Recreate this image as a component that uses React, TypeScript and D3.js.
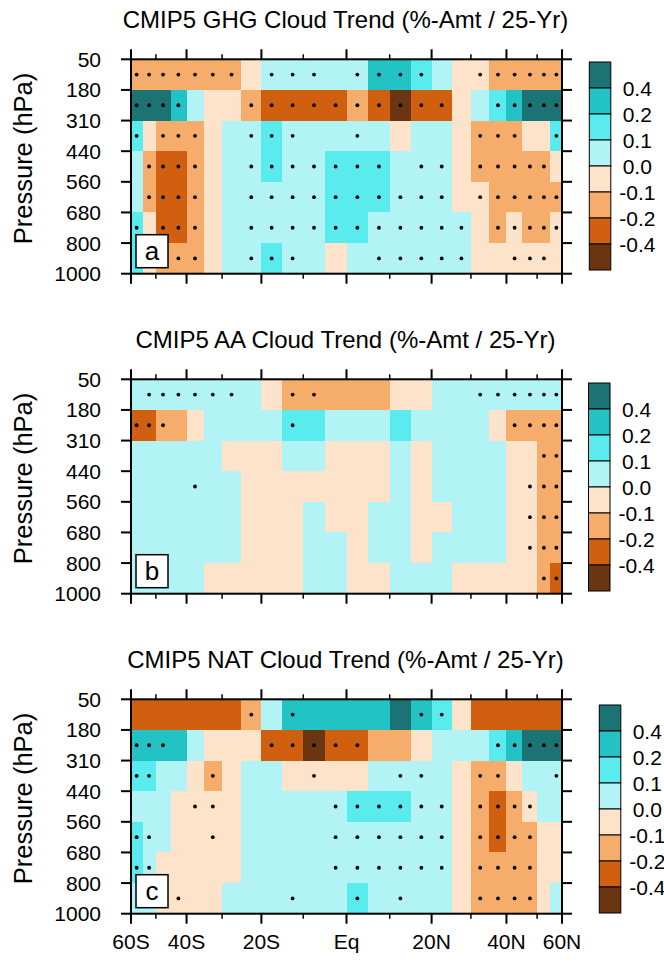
import React from "react";
import * as d3 from "d3";

// grid: 5 degree latitude bins, pressure layers between the levels
const latEdges = d3.range(-60, 61, 5);
const pressureLevels = [50, 180, 310, 440, 560, 680, 800, 1000];
const latTicks = [-60, -40, -20, 0, 20, 40, 60];
const latTickLabels = ["60S", "40S", "20S", "Eq", "20N", "40N", "60N"];
const latMinorTicks = [-50, -30, -10, 10, 30, 50];

// colour levels
const levelBounds = [-0.4, -0.2, -0.1, 0, 0.1, 0.2, 0.4];
const levelLabels = ["-0.4", "-0.2", "-0.1", "0.0", "0.1", "0.2", "0.4"];
const levelColors = ["#6c3512", "#d0600f", "#f6ac6b", "#fde3ca", "#b2f4f6", "#5aebee", "#22c2c5", "#1c7373"];

// GHG trend, rows top (50-180) to bottom (800-1000), columns 60S -> 60N
const ghgTrend = [
  [-0.15, -0.15, -0.15, -0.15, -0.15, -0.15, -0.15, -0.05, 0.05, 0.05, 0.05, 0.05, 0.05, 0.3, 0.3, 0.15, 0.05, -0.05, -0.05, -0.15, -0.15, -0.15, -0.15, -0.15],
  [0.5, 0.5, 0.5, 0.3, 0.05, -0.05, -0.05, -0.15, -0.3, -0.3, -0.3, -0.3, -0.15, -0.3, -0.5, -0.3, -0.3, -0.05, 0.05, 0.15, 0.3, 0.5, 0.5, 0.5],
  [0.15, -0.05, -0.15, -0.15, -0.15, -0.05, 0.05, 0.05, 0.15, 0.05, 0.05, 0.05, 0.05, 0.05, -0.05, 0.05, 0.05, -0.05, -0.15, -0.15, -0.15, -0.05, -0.05, 0.15],
  [0.05, -0.15, -0.3, -0.3, -0.15, -0.05, 0.05, 0.05, 0.15, 0.05, 0.05, 0.15, 0.15, 0.15, 0.05, 0.05, 0.05, -0.05, -0.15, -0.15, -0.15, -0.15, -0.15, -0.05],
  [0.05, -0.15, -0.3, -0.3, -0.15, -0.05, 0.05, 0.05, 0.05, 0.05, 0.05, 0.15, 0.15, 0.15, 0.05, 0.05, 0.05, -0.05, -0.05, -0.15, -0.15, -0.15, -0.15, -0.15],
  [0.15, -0.05, -0.3, -0.3, -0.15, -0.05, 0.05, 0.05, 0.05, 0.05, 0.05, 0.15, 0.15, 0.05, 0.05, 0.05, 0.05, 0.05, -0.05, -0.15, -0.05, -0.15, -0.15, -0.05],
  [0.15, -0.05, -0.15, -0.15, -0.15, -0.05, 0.05, 0.05, 0.15, 0.05, 0.05, -0.05, 0.05, 0.05, 0.05, 0.05, 0.05, 0.05, -0.05, -0.05, -0.05, -0.05, -0.05, -0.05],
];
const ghgSig = [
  "xxxxxxx-xxx-xxxx--xxxxxx",
  "xxxx---xxxxxxxxxx--xxxxx",
  "x-xxx--xxx--x-----xxx--x",
  "-xxxx--xxxxxxx-xx-xxxxx-",
  "-xxxx--xxxxxxxxxx-xxxxxx",
  "x-xxx--xxxxxxxxxxx-xxxxx",
  "---xx--xxx---xxxxx--xxx-",
];

// AA trend
const aaTrend = [
  [0.05, 0.05, 0.05, 0.05, 0.05, 0.05, 0.05, 0.05, -0.05, -0.15, -0.15, -0.15, -0.15, -0.15, -0.05, -0.05, 0.05, 0.05, 0.05, 0.05, 0.05, 0.05, 0.05, 0.05],
  [-0.3, -0.3, -0.15, -0.15, -0.05, 0.05, 0.05, 0.05, 0.05, 0.15, 0.15, 0.05, 0.05, 0.05, 0.15, 0.05, 0.05, 0.05, 0.05, -0.05, -0.15, -0.15, -0.15, -0.15],
  [0.05, 0.05, 0.05, 0.05, 0.05, 0.05, -0.05, -0.05, -0.05, 0.05, 0.05, -0.05, -0.05, -0.05, 0.05, -0.05, 0.05, 0.05, 0.05, 0.05, -0.05, -0.05, -0.15, -0.15],
  [0.05, 0.05, 0.05, 0.05, 0.05, 0.05, 0.05, -0.05, -0.05, -0.05, -0.05, -0.05, -0.05, -0.05, 0.05, -0.05, 0.05, 0.05, 0.05, 0.05, -0.05, -0.05, -0.15, -0.15],
  [0.05, 0.05, 0.05, 0.05, 0.05, 0.05, 0.05, -0.05, -0.05, -0.05, 0.05, -0.05, -0.05, 0.05, 0.05, -0.05, -0.05, 0.05, 0.05, 0.05, -0.05, -0.05, -0.15, -0.15],
  [0.05, 0.05, 0.05, 0.05, 0.05, 0.05, 0.05, -0.05, -0.05, -0.05, 0.05, 0.05, -0.05, 0.05, 0.05, -0.05, 0.05, 0.05, 0.05, 0.05, -0.05, -0.05, -0.15, -0.15],
  [0.05, 0.05, 0.05, 0.05, 0.05, -0.05, -0.05, -0.05, -0.05, -0.05, 0.05, 0.05, -0.05, -0.05, 0.05, 0.05, 0.05, -0.05, -0.05, -0.05, -0.05, -0.05, -0.15, -0.3],
];
const aaSig = [
  "-xxxxxx--xx-------xxxxxx",
  "xxx------x----------xxxx",
  "----------------------xx",
  "----x----------------xxx",
  "---------------------xxx",
  "---------------------xxx",
  "----------------------xx",
];

// NAT trend
const natTrend = [
  [-0.3, -0.3, -0.3, -0.3, -0.3, -0.3, -0.3, -0.15, 0.05, 0.3, 0.3, 0.3, 0.3, 0.3, 0.5, 0.3, 0.15, -0.05, -0.3, -0.3, -0.3, -0.3, -0.3, -0.3],
  [0.3, 0.3, 0.3, 0.3, 0.05, -0.05, -0.05, -0.05, -0.3, -0.3, -0.5, -0.3, -0.3, -0.15, -0.15, -0.05, 0.05, 0.05, 0.05, 0.15, 0.3, 0.5, 0.5, 0.5],
  [0.15, 0.15, 0.05, 0.05, -0.05, -0.15, -0.05, 0.05, 0.05, -0.05, -0.05, -0.05, -0.05, 0.05, 0.05, 0.05, 0.05, -0.05, -0.15, -0.15, -0.05, 0.05, 0.05, 0.05],
  [0.05, 0.05, 0.05, -0.05, -0.05, -0.05, -0.05, 0.05, 0.05, 0.05, 0.05, 0.05, 0.15, 0.15, 0.15, 0.05, 0.05, -0.05, -0.15, -0.3, -0.15, -0.05, 0.05, 0.05],
  [0.15, 0.05, 0.05, -0.05, -0.05, -0.05, -0.05, 0.05, 0.05, 0.05, 0.05, 0.05, 0.05, 0.05, 0.05, 0.05, 0.05, -0.05, -0.15, -0.3, -0.15, -0.15, -0.05, -0.05],
  [0.15, 0.05, -0.05, -0.05, -0.05, -0.05, -0.05, 0.05, 0.05, 0.05, 0.05, 0.05, 0.05, 0.05, 0.05, 0.05, 0.05, -0.05, -0.15, -0.15, -0.15, -0.15, -0.05, -0.05],
  [0.05, 0.05, -0.05, -0.05, -0.05, -0.05, 0.05, 0.05, 0.05, 0.05, 0.05, 0.05, 0.15, 0.05, 0.05, 0.05, 0.05, -0.05, -0.15, -0.15, -0.15, -0.15, -0.05, 0.05],
];
const natSig = [
  "-------x-x-----xx-------",
  "xxx-----xxxxx------xxxxx",
  "xx---x----x---xx--xx---x",
  "----xx-----xxxxxx-xxxx--",
  "xx---x-----xxxxxx-xxxx--",
  "xx---------xxxxxx-xxxx--",
  "---x-----x--x-x---xxxx--",
];

const FONT = "'Liberation Sans', Arial, Helvetica, sans-serif";
const LEFT = 131;
const RIGHT = 562;
const PLOT_H = 214.4;
const rad = Math.PI / 180;

const color = d3.scaleThreshold<number, string>().domain(levelBounds).range(levelColors);
const sx = d3.scaleLinear().domain([Math.sin(-60 * rad), Math.sin(60 * rad)]).range([LEFT, RIGHT]);
const x = (lat: number) => sx(Math.sin(lat * rad));

function Panel({ title, letter, trend, sig, top, barX, barTop, showX }: any) {
  const y = d3.scalePoint<number>().domain(pressureLevels).range([top, top + PLOT_H]);
  const bottom = top + PLOT_H;
  const midY = (top + bottom) / 2;

  // colourbar
  const barH = 208;
  const by = d3.scaleLinear().domain([0, levelColors.length]).range([barTop, barTop + barH]);
  const barColors = levelColors.slice().reverse();
  const barLabels = levelLabels.slice().reverse();

  return (
    <g>
      <text x={(LEFT + RIGHT) / 2 - 1} y={top - 31} textAnchor="middle" fontSize={24} fontFamily={FONT}>
        {title}
      </text>

      {/* cells */}
      <g shapeRendering="crispEdges">
        {trend.map((row: number[], i: number) =>
          row.map((v, j) => (
            <rect
              key={`c${i}-${j}`}
              x={x(latEdges[j])}
              y={y(pressureLevels[i])}
              width={x(latEdges[j + 1]) - x(latEdges[j]) + 0.5}
              height={y(pressureLevels[i + 1])! - y(pressureLevels[i])! + 0.5}
              fill={color(v)}
            />
          ))
        )}
      </g>

      {/* significance dots */}
      {sig.map((s: string, i: number) =>
        s.split("").map((ch, j) =>
          ch === "x" ? (
            <circle
              key={`d${i}-${j}`}
              cx={x(latEdges[j] + 2.5)}
              cy={(y(pressureLevels[i])! + y(pressureLevels[i + 1])!) / 2}
              r={1.9}
              fill="#000"
            />
          ) : null
        )
      )}

      {/* frame */}
      <rect x={LEFT} y={top} width={RIGHT - LEFT} height={PLOT_H} fill="none" stroke="#000" strokeWidth={2} />

      {/* pressure ticks */}
      {pressureLevels.map((p) => (
        <g key={`p${p}`}>
          <line x1={LEFT - 10} x2={LEFT} y1={y(p)} y2={y(p)} stroke="#000" strokeWidth={2} />
          <line x1={RIGHT} x2={RIGHT + 10} y1={y(p)} y2={y(p)} stroke="#000" strokeWidth={2} />
          <text x={101} y={y(p)! + 7.5} textAnchor="end" fontSize={21} fontFamily={FONT}>
            {p}
          </text>
        </g>
      ))}

      {/* latitude ticks */}
      {latTicks.map((lat) => (
        <g key={`l${lat}`}>
          <line x1={x(lat)} x2={x(lat)} y1={top - 10} y2={top} stroke="#000" strokeWidth={2} />
          <line x1={x(lat)} x2={x(lat)} y1={bottom} y2={bottom + 10} stroke="#000" strokeWidth={2} />
        </g>
      ))}
      {latMinorTicks.map((lat) => (
        <g key={`m${lat}`}>
          <line x1={x(lat)} x2={x(lat)} y1={top - 5} y2={top} stroke="#000" strokeWidth={1.5} />
          <line x1={x(lat)} x2={x(lat)} y1={bottom} y2={bottom + 5} stroke="#000" strokeWidth={1.5} />
        </g>
      ))}
      {showX &&
        latTicks.map((lat, k) => (
          <text key={`xl${lat}`} x={x(lat)} y={bottom + 35} textAnchor="middle" fontSize={21} fontFamily={FONT}>
            {latTickLabels[k]}
          </text>
        ))}

      {/* axis title */}
      <text
        transform={`translate(31.5,${midY - 8}) rotate(-90)`}
        textAnchor="middle"
        fontSize={25.5}
        fontFamily={FONT}
      >
        Pressure (hPa)
      </text>

      {/* panel letter */}
      <rect x={LEFT + 5} y={bottom - 39} width={32} height={33} fill="#fff" stroke="#000" strokeWidth={1.5} />
      <text x={LEFT + 21} y={bottom - 14} textAnchor="middle" fontSize={26} fontFamily={FONT}>
        {letter}
      </text>

      {/* colourbar */}
      {barColors.map((c, k) => (
        <rect
          key={`b${k}`}
          x={barX}
          y={by(k)}
          width={21.5}
          height={by(k + 1) - by(k)}
          fill={c}
          stroke="#000"
          strokeWidth={1}
        />
      ))}
      {barLabels.map((t, k) => (
        <text key={`bl${k}`} x={barX + 48} y={by(k + 1) + 8} textAnchor="middle" fontSize={21} fontFamily={FONT}>
          {t}
        </text>
      ))}
    </g>
  );
}

export default function App() {
  return (
    <svg
      width={664}
      height={970}
      style={{ position: "absolute", left: 0, top: 0, background: "#fff" }}
    >
      <Panel title="CMIP5 GHG Cloud Trend (%-Amt / 25-Yr)" letter="a" trend={ghgTrend} sig={ghgSig} top={59.3} barX={589.3} barTop={62} />
      <Panel title="CMIP5 AA Cloud Trend (%-Amt / 25-Yr)" letter="b" trend={aaTrend} sig={aaSig} top={379.3} barX={588.5} barTop={383} />
      <Panel title="CMIP5 NAT Cloud Trend (%-Amt / 25-Yr)" letter="c" trend={natTrend} sig={natSig} top={699.3} barX={599.3} barTop={705} showX />
    </svg>
  );
}
